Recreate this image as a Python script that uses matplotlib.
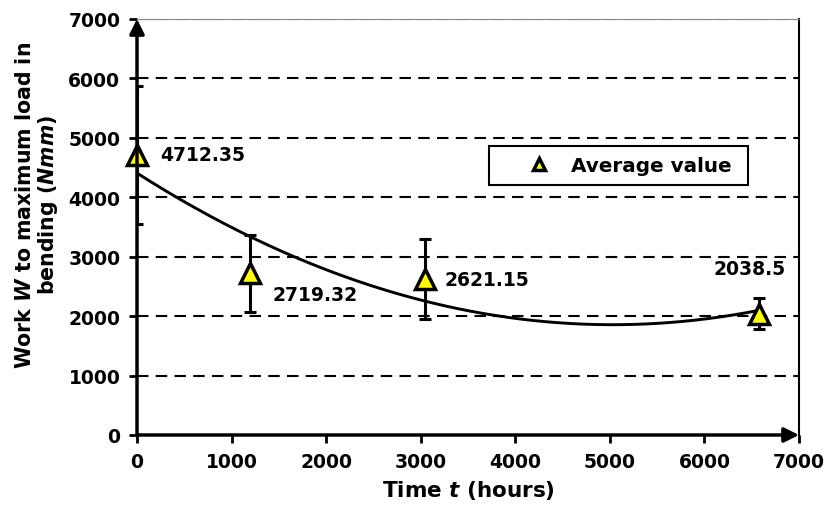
import numpy as np
import matplotlib
matplotlib.use("Agg")
import matplotlib.pyplot as plt
from matplotlib.lines import Line2D

plt.rcParams['font.family'] = ['DejaVu Sans']
plt.rcParams['font.weight'] = 'bold'
plt.rcParams['mathtext.fontset'] = 'custom'
plt.rcParams['mathtext.it'] = 'DejaVu Sans:italic:bold'
plt.rcParams['mathtext.rm'] = 'DejaVu Sans:bold'
plt.rcParams['mathtext.bf'] = 'DejaVu Sans:bold'

# Data
time_h = [0, 1200, 3048, 6576]
avg_work = [4712.35, 2719.32, 2621.15, 2038.5]
err_work = [1157, 651, 671, 260]
labels = ["4712.35", "2719.32", "2621.15", "2038.5"]
label_offsets = [(16.5, 0), (16, -15), (14, 0), (-7, 33)]
x_ticks = [0, 1000, 2000, 3000, 4000, 5000, 6000, 7000]
y_ticks = [0, 1000, 2000, 3000, 4000, 5000, 6000, 7000]

fig = plt.figure(figsize=(8.28, 5.10), dpi=100)
ax = fig.add_axes([137/828, 1-436/510, (799-137)/828, (436-20)/510])
ax.set_xlim(0, 7000)
ax.set_ylim(0, 7000)

# grid
for yv in y_ticks[1:]:
    ax.axhline(yv, color='black', lw=1.5, linestyle=(0, (5.5, 3.5)), zorder=1)

# trendline (2nd order polynomial)
coef = np.polyfit(time_h, avg_work, 2)
xs = np.linspace(time_h[0], time_h[-1], 300)
ax.plot(xs, np.polyval(coef, xs), color='black', lw=2.1, zorder=3)

# error bars
ax.errorbar(time_h, avg_work, yerr=err_work, fmt='none', ecolor='black',
            elinewidth=2.2, capsize=4, capthick=2.2, zorder=4)
# markers
ax.plot(time_h, avg_work, linestyle='none', marker='^', markersize=15,
        mfc='#ffff00', mec='black', mew=2.5, zorder=5, clip_on=False)

for x, y, t, off in zip(time_h, avg_work, labels, label_offsets):
    ax.annotate(t, (x, y), xytext=off, textcoords='offset points',
                ha='left' if off[0] > 0 else 'center', va='center',
                fontsize=13.5, fontweight='bold', zorder=6)

# spines
for s in ['left', 'bottom']:
    ax.spines[s].set_visible(False)
ax.spines['right'].set_linewidth(1.5)
ax.spines['top'].set_color('#888888')
ax.spines['top'].set_linewidth(0.8)

# axis arrows
ax.annotate('', xy=(1, 0), xytext=(0, 0), xycoords='axes fraction',
            arrowprops=dict(arrowstyle='-|>', lw=2.5, color='black',
                            mutation_scale=22, shrinkA=0, shrinkB=0), zorder=7)
ax.annotate('', xy=(0, 1), xytext=(0, 0), xycoords='axes fraction',
            arrowprops=dict(arrowstyle='-|>', lw=2.5, color='black',
                            mutation_scale=22, shrinkA=0, shrinkB=0), zorder=7)

ax.set_xticks(x_ticks)
ax.set_yticks(y_ticks)
ax.set_xticklabels([str(v) for v in x_ticks], fontsize=13.5, fontweight='bold')
ax.set_yticklabels([str(v) for v in y_ticks], fontsize=13.5, fontweight='bold')
ax.tick_params(axis='both', direction='out', length=6, width=2, color='black', pad=6)

ax.set_xlabel("Time $t$ (hours)", fontsize=15.5, fontweight='bold', labelpad=5)
fig.text(37.5/828, 1-205/510, "Work $W$ to maximum load in\nbending ($Nmm$)",
         rotation=90, ha='center', va='center', multialignment='center',
         fontsize=14.8, fontweight='bold', linespacing=1.05)

handle = Line2D([], [], linestyle='none', marker='^', markersize=9,
                mfc='#ffff00', mec='black', mew=2.5)
lx0 = (489 - 137) / 662
lx1 = (748 - 137) / 662
ly1 = (436 - 147) / 416
leg = ax.legend([handle], ["Average value"], loc='upper left',
                bbox_to_anchor=(lx0, ly1 - 0.2, lx1 - lx0, 0.2), mode='expand',
                fancybox=False, edgecolor='black', framealpha=1,
                prop={'size': 14.4, 'weight': 'bold'},
                handlelength=4.0, handletextpad=-0.4, borderpad=0.5, borderaxespad=0)
leg.get_frame().set_linewidth(1.5)

fig.savefig("out.png", dpi=100)
